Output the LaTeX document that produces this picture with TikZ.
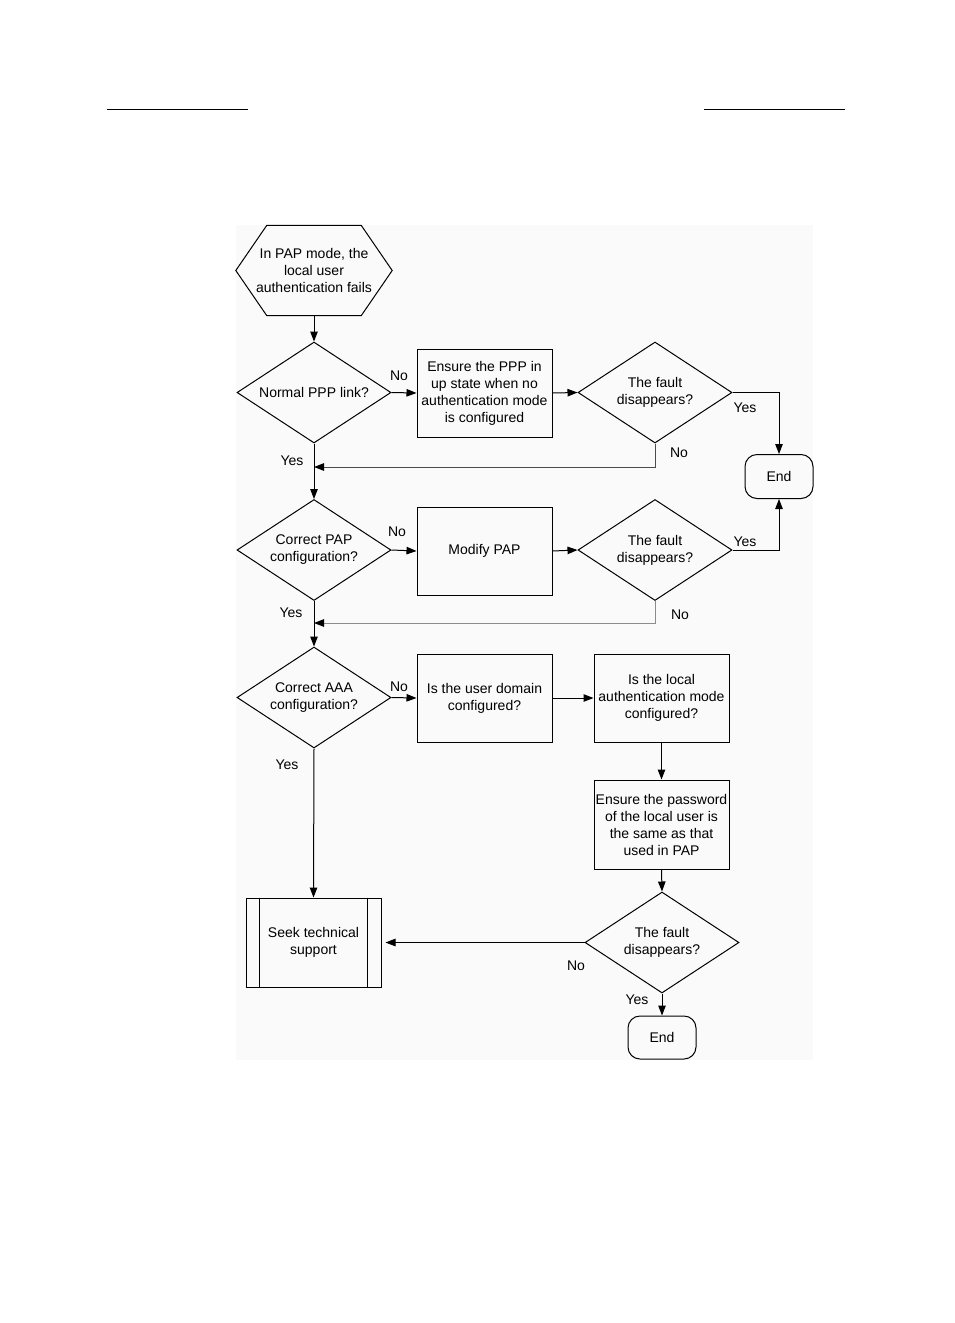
\documentclass[tikz,border=0pt]{standalone}
\usepackage{fontspec}
\setmainfont{Liberation Sans}
\usetikzlibrary{shapes.geometric,arrows.meta}
\begin{document}
\begin{tikzpicture}[x=1pt,y=-1pt,
  every node/.style={font=\fontsize{14}{17}\selectfont, align=center, inner sep=0pt},
  dia/.style={diamond, draw, line width=1pt, minimum width=154pt, minimum height=101pt, aspect=1.55},
  box/.style={rectangle, draw, line width=1pt, minimum width=135pt, minimum height=88pt},
  term/.style={rectangle, rounded corners=12pt, draw, line width=1pt, minimum width=68pt, minimum height=44pt},
  lbl/.style={font=\fontsize{14}{17}\selectfont},
  conn/.style={line width=1pt, -{Triangle[length=10pt,width=7.5pt]}},
  conngray/.style={line width=1pt, -{Triangle[length=10pt,width=7.5pt,color=black]}}
]
\useasboundingbox (0,0) rectangle (954,1323);
% page header rules
\draw[line width=1pt] (107,109) -- (248,109);
\draw[line width=1pt] (704,109) -- (845,109);
% faint background
\fill[black!2] (236,225) rectangle (813,1060);

% start hexagon
\node (start) at (314,270.5) [minimum width=156pt, minimum height=90pt] {In PAP mode, the\\local user\\authentication fails};
\draw[line width=1pt] (start.west) -- ([xshift=31pt]start.north west) -- ([xshift=-31pt]start.north east)
  -- (start.east) -- ([xshift=-31pt]start.south east) -- ([xshift=31pt]start.south west) -- cycle;

\node[dia] (d1) at (314,392.5) {Normal PPP link?};
\node[box] (b1) at (484.5,393) {Ensure the PPP in\\up state when no\\authentication mode\\is configured};
\node[dia] (d2) at (655,392.5) {The fault\\disappears?};
\node[term] (end1) at (779,476.5) {End};

\node[dia] (d3) at (314,550) {Correct PAP\\configuration?};
\node[box] (b2) at (484.5,551) {Modify PAP};
\node[dia] (d4) at (655,550) {The fault\\disappears?};

\node[dia] (d5) at (314,697.5) {Correct AAA\\configuration?};
\node[box] (b3) at (484.5,698) {Is the user domain\\configured?};
\node[box] (b4) at (661.5,698) {Is the local\\authentication mode\\configured?};
\node[box, minimum height=89pt] (b5) at (661.5,824.5) {Ensure the password\\of the local user is\\the same as that\\used in PAP};
\node[dia] (d6) at (662,942.5) {The fault\\disappears?};
\node[box, minimum height=89pt] (seek) at (313.5,942.5) {Seek technical\\support};
\draw[line width=1pt] ([xshift=14pt]seek.north west) -- ([xshift=14pt]seek.south west);
\draw[line width=1pt] ([xshift=-14pt]seek.north east) -- ([xshift=-14pt]seek.south east);
\node[term, minimum height=43pt] (end2) at (662,1037.5) {End};

\coordinate (j1) at (314,467);
\coordinate (j2) at (314,623);

% connectors
\draw[conn] (start.south) -- (d1.north);
\draw[conn] (d1.east) -- (b1.west);
\draw[conn] (b1.east) -- (d2.west);
\draw[conn] (d2.east) -| (end1.north);
\draw[conngray, draw=black!70] (d2.south) |- (j1);
\draw[conn] (d1.south) -- (d3.north);
\draw[conn] (d3.east) -- (b2.west);
\draw[conn] (b2.east) -- (d4.west);
\draw[conn] (d4.east) -| (end1.south);
\draw[conngray, draw=black!45] (d4.south) |- (j2);
\draw[conn] (d3.south) -- (d5.north);
\draw[conn] (d5.east) -- (b3.west);
\draw[conn] (b3.east) -- (b4.west);
\draw[conn] (b4.south) -- (b5.north);
\draw[conn] (b5.south) -- (d6.north);
\draw[conn] (d6.west) -- ([xshift=4pt]seek.east);
\draw[conn] (d6.south) -- (end2.north);
\draw[conn] (d5.south) -- (seek.north);

% labels
\node[lbl] (l1) at (399,375.5) {No};
\node[lbl] (l2) at (745,407.5) {Yes};
\node[lbl] (l3) at (679,452.5) {No};
\node[lbl] (l4) at (292,460.5) {Yes};
\node[lbl] (l5) at (397,531.5) {No};
\node[lbl] (l6) at (745,541.5) {Yes};
\node[lbl] (l7) at (291,612.5) {Yes};
\node[lbl] (l8) at (680,614.5) {No};
\node[lbl] (l9) at (399,686.5) {No};
\node[lbl] (l10) at (287,764.5) {Yes};
\node[lbl] (l11) at (576,965.5) {No};
\node[lbl] (l12) at (637,999.5) {Yes};
\end{tikzpicture}
\end{document}
